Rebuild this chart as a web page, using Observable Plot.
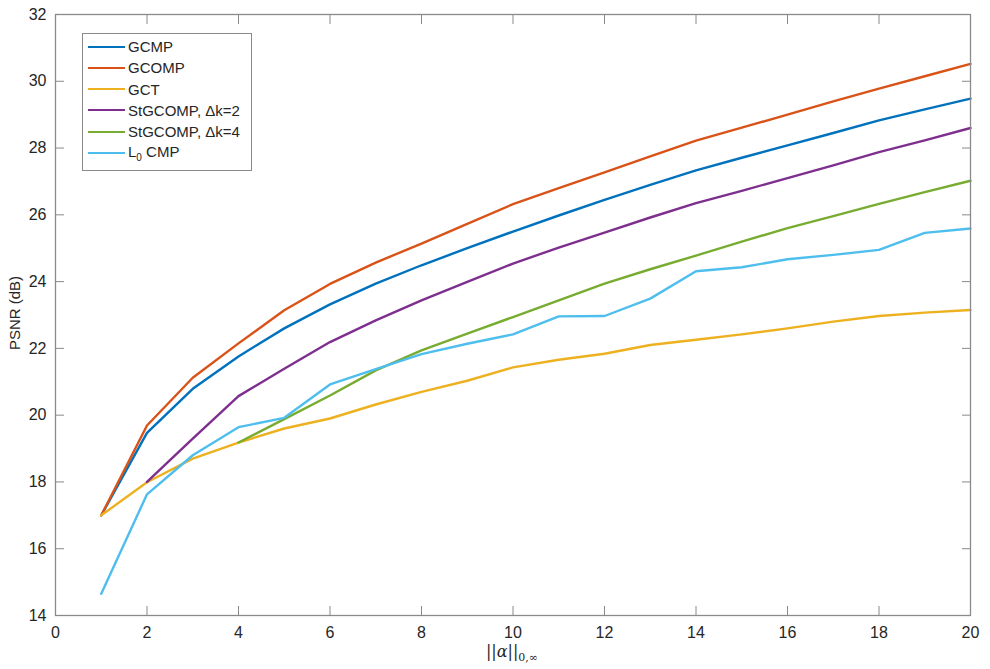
<!DOCTYPE html>
<html>
<head>
<meta charset="utf-8">
<script src="https://cdn.jsdelivr.net/npm/d3@7"></script>
<script src="https://cdn.jsdelivr.net/npm/@observablehq/plot@0.6"></script>
<style>
  html, body { margin: 0; padding: 0; background: #fff; }
  #wrap { position: relative; width: 990px; height: 669px; font-family: "Liberation Sans", Arial, sans-serif; }
  #legend { position: absolute; left: 82px; top: 33px; width: 170px; height: 138px; border: 1.3px solid #8a8a8a; background: #fff; box-sizing: border-box; }
  .row { position: absolute; left: 0; height: 20px; display: flex; align-items: center; font-size: 15px; color: #262626; white-space: nowrap; }
  .sw { width: 37px; height: 0; border-top: 2.4px solid; margin-left: 5px; margin-right: 3px; }
  #xlabel { position: absolute; left: 0; width: 1024px; top: 642px; text-align: center; font-family: "DejaVu Serif", "Liberation Serif", serif; font-size: 16px; color: #262626; }
  #ylabel { position: absolute; left: 14px; top: 313px; transform: translate(-50%, -50%) rotate(-90deg); font-size: 15px; color: #262626; white-space: nowrap; }
</style>
</head>
<body>
<div id="wrap">
  <div id="chart"></div>
  <div id="legend"></div>
  <div id="xlabel">||<i>α</i>||<sub style="font-size:11px">0,∞</sub></div>
  <div id="ylabel">PSNR (dB)</div>
</div>
<script>
const xs = [1,2,3,4,5,6,7,8,9,10,11,12,13,14,15,16,17,18,19,20];
const gcmp   = [17.0, 19.47, 20.79, 21.76, 22.6, 23.32, 23.94, 24.49, 25.0, 25.5, 25.98, 26.45, 26.9, 27.33, 27.71, 28.08, 28.45, 28.83, 29.16, 29.48];
const gcomp  = [17.0, 19.69, 21.12, 22.15, 23.14, 23.93, 24.57, 25.14, 25.73, 26.32, 26.8, 27.27, 27.75, 28.22, 28.61, 29.0, 29.4, 29.78, 30.15, 30.52];
const gct    = [17.0, 17.99, 18.7, 19.18, 19.6, 19.9, 20.32, 20.7, 21.03, 21.43, 21.66, 21.84, 22.1, 22.26, 22.42, 22.6, 22.8, 22.97, 23.07, 23.15];
const stg2   = [18.0, 19.3, 20.57, 21.39, 22.19, 22.84, 23.44, 23.99, 24.54, 25.02, 25.47, 25.92, 26.35, 26.72, 27.1, 27.48, 27.88, 28.23, 28.6]; // from x=2
const stg4   = [19.18, 19.88, 20.59, 21.34, 21.94, 22.44, 22.94, 23.44, 23.94, 24.37, 24.78, 25.2, 25.6, 25.96, 26.33, 26.68, 27.02]; // from x=4
const l0cmp  = [14.65, 17.63, 18.8, 19.64, 19.92, 20.92, 21.38, 21.83, 22.14, 22.42, 22.96, 22.97, 23.49, 24.31, 24.43, 24.67, 24.8, 24.95, 25.46, 25.59];

const seriesNames = ["GCMP", "GCOMP", "GCT", "StGCOMP, \u0394k=2", "StGCOMP, \u0394k=4", "L0 CMP"];
const seriesColors = ["#0072BD", "#D95319", "#EDB120", "#7E2F8E", "#77AC30", "#4DBEEE"];
const seriesValues = [gcmp, gcomp, gct, stg2, stg4, l0cmp];
const seriesStart = [1, 1, 1, 2, 4, 1];

const xTicks = [0,2,4,6,8,10,12,14,16,18,20];
const yTicks = [14,16,18,20,22,24,26,28,30,32];

const lineMarks = seriesValues.map((vals, i) => {
  const data = vals.map((v, j) => ({x: seriesStart[i] + j, y: v}));
  return Plot.line(data, {x: "x", y: "y", stroke: seriesColors[i], strokeWidth: 2.4});
});

const axisColor = "#8a8a8a";
const plot = Plot.plot({
  width: 990,
  height: 669,
  marginLeft: 55,
  marginRight: 20,
  marginTop: 14,
  marginBottom: 54,
  style: {fontFamily: "'Liberation Sans', Arial, sans-serif", fontSize: "16px", color: "#262626", background: "#fff"},
  x: {domain: [0, 20]},
  y: {domain: [14, 32]},
  marks: [
    ...lineMarks,
    Plot.frame({stroke: axisColor, strokeWidth: 1.3}),
    Plot.axisX(xTicks, {anchor: "bottom", tickSize: -9, tickPadding: 20, stroke: axisColor, fill: "#262626", label: null, fontSize: 16}),
    Plot.axisX(xTicks, {anchor: "top", tickSize: -9, stroke: axisColor, tickFormat: () => "", label: null}),
    Plot.axisY(yTicks, {anchor: "left", tickSize: -9, tickPadding: 18, stroke: axisColor, fill: "#262626", label: null, fontSize: 16}),
    Plot.axisY(yTicks, {anchor: "right", tickSize: -9, stroke: axisColor, tickFormat: () => "", label: null})
  ]
});
document.getElementById("chart").appendChild(plot);

const legend = document.getElementById("legend");
seriesNames.forEach((name, i) => {
  const row = document.createElement("div");
  row.className = "row";
  row.style.top = (2.5 + i * 21.3) + "px";
  const sw = document.createElement("div");
  sw.className = "sw";
  sw.style.borderTopColor = seriesColors[i];
  row.appendChild(sw);
  const t = document.createElement("span");
  if (name === "L0 CMP") {
    t.innerHTML = "L<sub style='font-size:10px'>0</sub> CMP";
  } else {
    t.textContent = name;
  }
  row.appendChild(t);
  legend.appendChild(row);
});
</script>
</body>
</html>
